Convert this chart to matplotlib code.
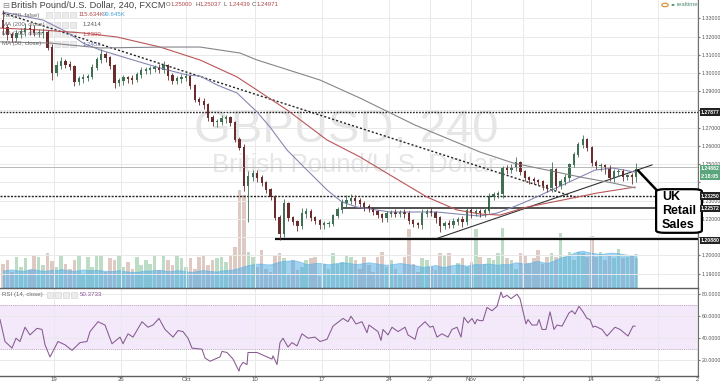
import numpy as np
import matplotlib
matplotlib.use("Agg")
import matplotlib.pyplot as plt
from matplotlib.patches import FancyBboxPatch, Circle, Rectangle

closes = [1.3247,1.3209,1.3193,1.3214,1.3225,1.3242,1.3236,1.3220,1.3220,1.3220,1.3138,1.3000,1.3039,1.3061,1.3044,1.3033,1.2951,1.2968,1.2973,1.2979,
1.3028,1.3072,1.3099,1.3083,1.3039,1.2946,1.2957,1.2973,1.2968,1.2962,1.2990,1.3011,1.3017,1.3022,1.3028,1.3017,1.3039,1.2984,1.2957,1.2968,
1.2973,1.2979,1.2929,1.2852,1.2841,1.2825,1.2754,1.2732,1.2732,1.2748,1.2754,1.2726,1.2633,1.2589,1.2381,1.2430,1.2446,1.2424,1.2397,1.2359,
1.2320,1.2205,1.2117,1.2282,1.2205,1.2183,1.2161,1.2227,1.2238,1.2205,1.2189,1.2167,1.2172,1.2172,1.2216,1.2249,1.2287,1.2298,1.2309,1.2298,
1.2282,1.2265,1.2254,1.2238,1.2222,1.2205,1.2227,1.2232,1.2227,1.2232,1.2227,1.2189,1.2172,1.2167,1.2227,1.2238,1.2232,1.2205,1.2161,1.2172,
1.2167,1.2183,1.2194,1.2183,1.2243,1.2232,1.2238,1.2232,1.2243,1.2320,1.2331,1.2337,1.2479,1.2468,1.2479,1.2507,1.2457,1.2424,1.2413,1.2408,
1.2403,1.2381,1.2370,1.2468,1.2381,1.2403,1.2424,1.2496,1.2551,1.2606,1.2633,1.2589,1.2507,1.2490,1.2490,1.2479,1.2424,1.2457,1.2457,1.2430,
1.2435,1.2430,1.2468]
wick_up = [60,20,15,25,20,35,25,30,20,25,15,20,25,30,15,20,10,15,20,15,
20,15,35,15,10,10,15,15,10,20,15,20,15,15,15,20,25,10,15,15,20,20,10,10,15,20,10,15,15,20,15,10,10,15,20,
35,25,25,15,10,10,10,15,25,10,10,10,35,20,15,10,10,15,15,10,15,20,35,25,20,15,15,15,10,10,10,15,15,20,15,
20,15,10,10,25,15,30,10,10,15,20,20,15,20,25,15,15,15,20,20,15,15,10,15,25,35,10,10,10,15,10,10,10,45,
10,15,20,10,15,15,30,10,10,15,15,10,15,15,15,15,10,15,40]
wick_dn = [40,25,25,15,20,20,25,15,20,25,10,40,15,15,15,15,20,15,25,15,
10,10,15,20,15,30,15,20,25,20,10,15,15,20,15,15,15,20,15,15,20,15,15,10,15,20,15,20,25,15,20,15,10,10,30,
200,20,20,15,15,15,10,35,15,15,15,25,15,20,15,15,20,25,15,10,10,15,20,15,20,15,20,15,15,15,20,20,15,15,15,
20,15,15,15,20,15,15,25,35,15,15,15,15,30,15,25,15,20,20,10,15,15,20,20,15,15,15,15,20,15,15,20,20,20,
25,15,15,15,10,10,15,15,15,15,25,30,15,20,20,20,15,40,25]
volume = [70,80,45,90,60,85,50,95,88,65,100,78,60,95,70,55,80,92,40,88,
60,95,92,45,85,80,95,60,76,55,90,65,80,70,95,50,92,82,65,95,85,60,85,55,90,95,65,80,85,90,
75,95,120,285,270,105,90,60,110,55,45,95,100,85,40,80,50,60,80,85,90,35,70,55,100,70,75,95,90,80,
55,90,65,45,88,105,60,80,55,40,90,170,70,45,85,82,60,50,100,92,100,40,72,85,60,76,170,90,70,85,
80,100,175,85,80,55,100,95,72,85,110,70,90,100,88,160,90,105,80,105,100,88,150,90,105,80,95,85,112,
86,90,95,85]
volume_ma = [50,52,53,51,49,50,54,53,51,49,50,52,51,54,52,50,49,51,53,51,
51,52,50,49,48,49,51,48,47,46,46,48,50,49,51,52,50,48,49,51,50,48,46,47,50,51,49,48,47,50,
51,52,54,58,62,66,68,70,70,68,68,72,76,78,79,80,78,74,68,70,72,72,70,68,70,72,74,73,71,69,
70,72,74,72,70,68,67,68,70,72,70,68,66,64,60,62,64,66,62,60,64,66,68,66,64,67,69,68,70,70,
68,67,69,68,70,74,72,70,72,76,78,74,72,76,82,88,92,96,102,106,108,104,102,100,98,100,102,102,100,
98,96,94,99]
volume = volume[:len(closes)]
volume_ma = volume_ma[:len(closes)]

ma_t = [3,43,67,83,100,133,160,187,200,217,237,257,270,287,307,327,342,357,390,437,457,480,497,513,530,567,580,595,613,635]
ma50 = [1.3335,1.3291,1.3225,1.3165,1.3127,1.3072,1.3028,1.2990,1.2984,1.2935,1.2891,1.2787,1.2704,1.2578,1.2468,1.2359,1.2293,1.2265,1.2238,1.2238,1.2227,1.2216,1.2232,1.2265,1.2304,1.2397,1.2430,1.2468,1.2479,1.2457]
ma100_t = [0,43,83,117,160,200,237,257,287,327,360,390,427,457,480,500,527,563,597,635]
ma100 = [1.3247,1.3236,1.3220,1.3198,1.3143,1.3072,1.2979,1.2907,1.2798,1.2633,1.2540,1.2441,1.2320,1.2249,1.2227,1.2221,1.2265,1.2304,1.2342,1.2375]
ma200_t = [0,50,100,167,200,240,257,320,360,415,480,513,547,580,613,635]
ma200 = [1.3171,1.3165,1.3138,1.3143,1.3143,1.3110,1.3072,1.2962,1.2863,1.2715,1.2567,1.2507,1.2468,1.2430,1.2397,1.2370]

rsi_t = [0,5,12,16,20,25,30,37,42,45,50,58,65,72,80,87,90,98,105,112,120,123,128,133,142,148,153,159,165,173,178,183,188,192,202,205,210,220,222,227,233,239,
240,243,247,248,257,272,273,277,280,283,288,292,297,302,308,315,320,327,333,343,348,351,356,362,367,369,378,381,383,388,392,398,405,408,415,418,425,430,433,437,442,448,452,457,461,464,468,472,475,477,
480,483,487,492,497,501,503,507,511,517,520,526,528,532,537,539,542,546,550,554,557,562,569,572,575,579,583,587,590,593,595,602,607,615,620,628,633,635]
rsi = [57,37,31,40,37,50,43,49,48,34,23,37,34,29,36,37,46,55,52,35,41,35,44,41,55,50,52,58,48,41,47,46,40,31,30,22,19,23,28,27,21,10,
14,18,16,27,27,21,24,16,36,40,32,36,33,44,40,41,37,39,51,58,55,60,53,55,45,52,46,38,48,43,50,46,50,43,39,49,55,50,51,41,44,41,48,50,41,59,54,58,53,57,
56,56,68,65,69,82,77,79,76,80,76,53,57,52,52,57,48,48,64,48,52,51,63,65,62,69,64,58,57,50,51,48,42,50,48,42,51,51]

price_ticks = [1.33,1.32,1.31,1.30,1.29,1.27,1.26,1.25,1.23,1.22,1.20,1.19]
grid_prices = [1.33,1.32,1.31,1.30,1.29,1.28,1.27,1.26,1.25,1.24,1.23,1.22,1.21,1.20,1.19]
rsi_ticks = [80,60,40,20]
day_pos = [54,121,186,255,322,389,430,471,523,591,658,697]
day_labels = ["19","26","Oct","10","17","24","27","Nov","7","14","21","2"]

W, H = 720, 383
plt.rcParams["font.family"] = ["Liberation Sans", "DejaVu Sans"]
fig = plt.figure(figsize=(7.2, 3.83), dpi=100, facecolor="white")
def axpx(x0, y0, x1, y1):
    return fig.add_axes([x0/W, 1-y1/H, (x1-x0)/W, (y1-y0)/H])
ax = axpx(0, 0, 698, 287.5)
ar = axpx(0, 288, 698, 376)
TMAX = 698
PTOP, PBOT = 1.3401, 1.18238

n = len(closes)
t = 3 + 4.46*np.arange(n)
closes_a = np.array(closes)
opens = np.r_[closes_a[0]+0.0040, closes_a[:-1]]
up = closes_a >= opens

# volume on a twin scale (twinx moves the host's ticks, so it is set up first)
av = ax.twinx()
av.set_ylim(0, 287.5*2.93)
av.set_axis_off()
av.set_zorder(1)
ax.set_zorder(2)
ax.patch.set_visible(False)

for a in (ax, ar):
    a.set_xlim(0, TMAX)
    a.set_xticks(day_pos)
    a.grid(True, color="#e9e9e9", lw=0.7)
    a.set_axisbelow(True)
    for s in ("top", "left"):
        a.spines[s].set_visible(False)
    a.spines["right"].set_color("#707070")
    a.spines["bottom"].set_color("#606060")
    a.spines["bottom"].set_linewidth(1.0)
    a.yaxis.tick_right()
    a.tick_params(axis="y", length=1.5, color="#777777", labelsize=3.8, labelcolor="#555555", pad=1.2)
ax.set_ylim(PBOT, PTOP)
ax.set_yticks(grid_prices)
ax.set_yticklabels([f"{p:.5f}" if p in price_ticks else "" for p in grid_prices])
ax.tick_params(axis="x", length=0, labelbottom=False)
ar.set_ylim(5.6, 85.7)
ar.set_yticks(rsi_ticks)
ar.set_yticklabels([f"{v:.4f}" for v in rsi_ticks])
ar.set_xticklabels(day_labels, fontsize=4.4, color="#555555")
ar.tick_params(axis="x", length=0.8, color="#777777", pad=0.2)

# watermark
ax.text(346, 1.2689, "GBPUSD, 240", fontsize=34, color="#e6e6e6", ha="center", va="center", zorder=0.5)
ax.text(354, 1.2495, "British Pound/U.S. Dollar", fontsize=18.5, color="#e6e6e6", ha="center", va="center", zorder=0.5)

av.bar(t, volume, width=3.6, color=np.where(up, "#b5d9c0", "#dcc4bd"), alpha=0.9, lw=0)
av.fill_between(t, 0, volume_ma, color="#52ade6", alpha=0.55, lw=0.6)

# horizontal levels & trend lines
ax.axhline(1.27877, color="#222222", lw=1.0, ls=(0, (1.2, 1)))
ax.axhline(1.2325, color="#222222", lw=1.0, ls=(0, (1.5, 1)))
ax.hlines(1.22572, 342, TMAX, color="#222222", lw=1.1)
ax.hlines(1.2088, 275, TMAX, color="#111111", lw=1.6)
ax.axhline(1.2486, color="#b8b8b8", lw=0.7)
ax.plot([3, 577], [1.3330, 1.2315], color="#222222", lw=1.0, ls=(0, (1.5, 1.5)))
ax.plot([438, 652], [1.2095, 1.2496], color="#333333", lw=0.8)

ax.plot(ma_t, ma50, color="#8688b4", lw=0.8)
ax.plot(ma100_t, ma100, color="#bb5558", lw=0.8)
ax.plot(ma200_t, ma200, color="#85858c", lw=0.8)

# candles
col = np.where(up, "#3f7054", "#6a2c2c")
ax.vlines(t, np.minimum(opens, closes_a) - np.array(wick_dn[:n])/1e4,
          np.maximum(opens, closes_a) + np.array(wick_up[:n])/1e4, color=col, lw=0.6)
ax.bar(t, np.abs(closes_a-opens)+0.0004, bottom=np.minimum(opens, closes_a), width=2.3, color=col, lw=0)

# RSI
ar.axhspan(30, 70, color="#f4e8fb", lw=0, zorder=0.5)
ar.axhline(70, color="#b9a7bf", lw=0.6, ls=(0, (1.5, 1)))
ar.axhline(30, color="#b9a7bf", lw=0.6, ls=(0, (1.5, 1)))
ar.plot(rsi_t, rsi, color="#86598f", lw=0.75)

# callout
ax.plot([638, 657], [1.2466, 1.2356], color="black", lw=1.8, solid_capstyle="round")
box = FancyBboxPatch((659/W, 1-232/H), 40/W, 42/H, transform=fig.transFigure,
                     boxstyle="round,pad=0.004,rounding_size=0.012", mutation_aspect=H/W,
                     fc="white", ec="black", lw=1.6, zorder=10)
fig.add_artist(box)
for yy, s in zip([197.5, 211, 224.5], ["UK", "Retail", "Sales"]):
    fig.text(662/W, 1-yy/H, s, fontsize=9, fontweight="bold", color="black", va="center", zorder=11)

# price tags
def tag(y, s, fc="#222222", fg="white"):
    fig.text(701/W, 1-y/H, s, fontsize=3.7, fontweight="bold", color=fg, va="center", ha="left",
             bbox=dict(boxstyle="square,pad=0.2", fc=fc, ec="none"), zorder=12)
tag(112, "1.27877"); tag(196, "1.23250"); tag(208.5, "1.22572"); tag(240.5, "1.20880")
tag(169, "1.24882", fc="#5aa57c"); tag(176.5, "2:18:05", fc="#5aa57c")

# header
g = "#555555"
fig.text(2/W, 1-5/H, "\u229f", fontsize=6, color="#888888", va="center", family=["DejaVu Sans"])
fig.text(11/W, 1-5/H, "British Pound/U.S. Dollar, 240, FXCM", fontsize=6.7, color="#444444", va="center")
for x, lab, v in [(166, "O", "1.25000"), (195, "H", "1.25037"), (224, "L", "1.24439"), (252, "C", "1.24971")]:
    fig.text(x/W, 1-5/H, lab, fontsize=4.3, color=g, va="center")
    fig.text((x+5)/W, 1-5/H, v, fontsize=4.3, color="#b0484a", va="center")

def icons(x0, y, k=4):
    for j in range(k):
        fig.add_artist(Rectangle(((x0+j*8)/W, 1-(y+3)/H), 6/W, 6/H, transform=fig.transFigure,
                                 fc="#ececec", ec="#d0d0d0", lw=0.4))
for yy, s, vals in [(15, "Vol (20, false)", [("115.634K", "#b0484a", 79), ("99.645K", "#4aa0d0", 103)]),
                    (24.5, "MA (200, close)", [("1.2414", "#555555", 83)]),
                    (34, "MA (100, close)", [("1.2390", "#c04a4a", 83)]),
                    (44, "MA (50, close)", [("1.2451", "#6f72a8", 83)])]:
    fig.text(2/W, 1-yy/H, s, fontsize=4.4, color="#666666", va="center")
    icons(46, yy)
    for v, c, x in vals:
        fig.text(x/W, 1-yy/H, v, fontsize=4.4, color=c, va="center")
fig.text(2/W, 1-294.5/H, "RSI (14, close)", fontsize=4.4, color="#666666", va="center")
icons(47, 294.5)
fig.text(80/W, 1-294.5/H, "50.3733", fontsize=4.4, color="#8a4f96", va="center")

# realtime badge
fig.add_artist(Circle((665/W, 1-5/H), 0.0045, transform=fig.transFigure, fc="white", ec="#d9973f", lw=0.9))
fig.add_artist(Circle((673/W, 1-5/H), 0.0022, transform=fig.transFigure, fc="#2f7d5b", ec="none"))
fig.text(677/W, 1-5/H, "realtime", fontsize=4.3, color="#4f8f70", va="center")

fig.savefig("out.png", dpi=100)
